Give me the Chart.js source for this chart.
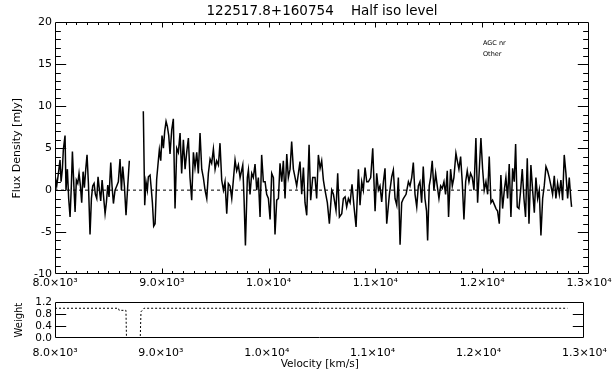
<!DOCTYPE html>
<html><head><meta charset="utf-8">
<script src="https://cdn.jsdelivr.net/npm/chart.js@4.4.1/dist/chart.umd.min.js"></script>
<style>
html,body{margin:0;padding:0;background:#fff;}
#wrap{position:relative;width:616px;height:372px;overflow:hidden;background:#fff;}
#c1{position:absolute;left:0;top:0;}
#c2{position:absolute;left:0;top:293px;}
</style></head><body>
<div id="wrap"><canvas id="c1" width="616" height="296"></canvas><canvas id="c2" width="616" height="79"></canvas></div>
<script>
// ---- data ----
const chartTitle = '122517.8+160754    Half iso level';
const noteLines = ['AGC nr', 'Other'];
const xTickValues = [8000, 9000, 10000, 11000, 12000, 13000];
const xTickLabels = ['8.0×10³', '9.0×10³', '1.0×10⁴', '1.1×10⁴', '1.2×10⁴', '1.3×10⁴'];
const fluxTicks = [-10, -5, 0, 5, 10, 15, 20];
const weightTicks = [0, 0.4, 0.8, 1.2];

// spectrum before the masked gap
const velLow = [8000,8016,8032,8047,8057,8069,8078,8094,8103,8116,
  8128,8141,8153,8163,8175,8188,8200,8213,8225,8238,
  8250,8263,8275,8288,8300,8313,8328,8341,8353,8366,
  8378,8391,8403,8416,8428,8441,8453,8469,8481,8494,
  8506,8522,8534,8547,8562,8578,8593,8609,8622,8634,
  8650,8665,8681,8696];
const fluxLow = [1.8,0.5,2.0,3.6,1.0,2.5,4.8,6.5,0,2.5,
  -1.0,-3.2,0.5,4.6,1.0,-2.6,1.2,0.8,2.0,0.5,
  -1.5,2.2,0.3,2.5,4.2,0.8,-5.3,-1.0,0.5,0.8,
  -0.5,-1.0,1.6,0,-1.3,1.2,-0.5,-2.8,-1.5,0.6,
  -0.8,3.3,0.5,-1.6,0,0.5,1.0,3.7,0,2.8,
  0.5,-3.0,0.5,3.5];

// spectrum after the masked gap
const velMain = [8827,8840,8852,8865,8874,8890,8899,8912,8924,8937,
  8952,8968,8977,8990,9002,9015,9027,9040,9052,9065,
  9077,9093,9108,9124,9140,9155,9171,9186,9202,9218,
  9233,9249,9264,9280,9296,9311,9327,9342,9358,9374,
  9389,9405,9421,9436,9452,9467,9483,9499,9514,9530,
  9545,9561,9577,9592,9608,9623,
  9639,9655,9670,9686,9701,9717,9733,9758,9770,9783,
  9801,9811,9826,9842,9857,9873,9889,9904,9920,9935,
  9951,9967,9982,9998,10014,10029,10045,10060,10076,10092,
  10107,10123,10138,10154,10170,10185,10201,10216,10232,10248,
  10263,10279,10294,10310,10326,10341,10357,10379,10394,10413,
  10435,10450,10466,10482,10497,10513,10528,10550,10569,10591,
  10607,10631,10647,10663,10685,10700,10716,10731,10747,10763,
  10781,10800,10819,10841,10856,10872,10887,10903,10919,10934,
  10956,10975,10997,11012,11028,11043,11059,11075,11090,11106,
  11131,11153,11168,11184,11200,11215,11231,11246,11262,11287,
  11309,11324,11340,11355,11371,11387,11402,
  11417,11433,11448,11464,11479,11489,11504,11517,11532,11548,
  11564,11579,11595,11611,11626,11642,11657,11673,11685,11704,
  11720,11735,11754,11767,11782,11798,11813,11829,11845,11860,
  11876,11891,11907,11923,11941,11957,11973,11988,12004,12019,
  12035,12051,12066,12082,12097,12113,12129,12144,12160,12175,
  12191,12207,12222,12238,12253,12269,12285,12300,12313,12328,
  12344,12360,12375,12391,12406,12422,12438,12456,12472,12488,
  12503,12519,12534,12550,12566,12581,12597,12612,12628,12644,
  12659,12675,12690,12706,12722,12737,12753,12768,12784,12800,
  12815,12831,12837];
const fluxMain = [9.4,-1.8,1.0,0,1.6,1.8,0.5,-1.5,-4.3,-4.0,
  1.3,3.6,4.8,3.5,6.5,5.0,7.0,8.2,7.6,6.5,
  4.3,7.2,8.5,-2.2,5.0,4.5,6.8,2.0,6.0,2.5,
  4.5,6.2,1.5,-1.2,4.5,2.7,4.5,2.0,6.8,2.5,
  1.5,0,-1.0,2.0,3.7,3.2,4.9,2.5,3.5,3.0,
  5.6,1.2,0,1.0,-2.8,0.8,
  0.5,-1.0,1.2,3.6,2.3,3.0,1.5,3.0,-1.0,-6.6,
  1.5,2.4,-0.5,2.0,1.5,3.1,0,1.5,-3.2,4.2,
  1.0,1.0,-0.5,-1.0,-3.5,2.0,1.5,-5.3,-1.2,-1.0,
  3.2,1.0,3.5,-1.0,4.3,1.5,2.5,5.8,2.5,1.5,
  0.5,2.0,3.4,-0.5,2.7,-1.5,-3.0,5.4,-1.2,1.5,
  1.5,-1.0,4.2,2.6,3.5,1.2,0,-1.5,-4.0,0,
  -0.5,-2.4,2.0,-3.2,-2.8,-1.0,-0.8,-2.0,-1.0,-1.5,
  0.7,-2.0,-4.4,2.5,-1.8,1.0,0,2.7,1.0,1.0,
  1.5,5.0,-2.5,2.0,0,0.5,-1.4,1.0,2.6,-4.0,
  -0.5,1.6,2.4,-1.0,-1.8,1.5,-6.5,-1.5,-1.0,-0.5,
  1.0,0.5,1.5,3.3,-0.5,-2.0,0.5,
  1.0,-1.5,2.8,-1.0,-2.5,-6.0,0.5,1.5,3.5,0,
  2.0,0.5,-1.0,0.5,0.2,1.0,-0.5,2.3,-3.2,2.5,
  0.5,1.5,4.4,3.5,2.5,4.0,1.0,-3.5,1.0,2.3,
  1.0,2.0,1.5,0,6.2,-1.5,2.5,6.2,2.5,0,
  1.0,-0.5,4.0,-1.5,-1.2,-1.7,-2.2,-2.5,-4.0,1.8,
  -2.2,0,1.5,-1.0,3.1,-3.2,2.6,1.0,5.5,-2.0,
  -2.2,0,2.5,-1.0,-3.2,3.8,-4.0,3.0,0,-2.7,
  1.5,-1.0,0,-5.4,-1.0,0.5,2.8,2.3,1.5,0.5,
  -0.5,1.7,-1.0,0.8,-0.5,1.2,-1.2,4.2,2.0,-1.0,
  1.5,-1.2,-2.0];
const gapVel = 8760;

// zero-level reference line
const zeroVel = [8000, 12840];
const zeroFlux = [0, 0];

// weights
const weightVel = [8000, 8600, 8605, 8670, 8675, 8805, 8812, 8840, 12840];
const weightVal = [1.0, 1.0, 0.93, 0.93, 0.0, 0.0, 0.88, 1.0, 1.0];

// ---- drawing ----
const FAM = "'DejaVu Sans', 'Liberation Sans', sans-serif";
Chart.defaults.font.family = FAM;
Chart.defaults.color = '#000';

const pts = (xs, ys) => xs.map((x, i) => ({x: x, y: ys[i]}));
const spectrum = pts(velLow, fluxLow).concat([{x: gapVel, y: null}], pts(velMain, fluxMain));

const idlBox = {
  id: 'idlBox',
  afterDatasetsDraw(chart, args, o) {
    const {ctx, chartArea: a} = chart;
    const xs = chart.scales.x, ys = chart.scales.y;
    const L = Math.round(a.left) + 0.5, R = Math.round(a.right) - 0.5;
    const T = Math.round(a.top) + 0.5, B = Math.round(a.bottom) - 0.5;
    ctx.save();
    ctx.strokeStyle = '#000'; ctx.lineWidth = 1;
    ctx.beginPath();
    ctx.rect(L, T, R - L, B - T);
    const isMajor = (v, m) => Math.abs(v / m - Math.round(v / m)) < 1e-6;
    if (o.xMinor) {
      const n = Math.round((xs.max - xs.min) / o.xMinor);
      for (let i = 1; i < n; i++) {
        const v = xs.min + i * o.xMinor;
        const p = Math.round(xs.getPixelForValue(v)) + 0.5;
        const len = isMajor(v, o.xMajor) ? o.xLen : o.xLen / 2;
        ctx.moveTo(p, B); ctx.lineTo(p, B - len);
        ctx.moveTo(p, T); ctx.lineTo(p, T + len);
      }
    }
    if (o.yMinor) {
      const n = Math.round((ys.max - ys.min) / o.yMinor);
      for (let i = 1; i < n; i++) {
        const v = ys.min + i * o.yMinor;
        const p = Math.round(ys.getPixelForValue(v)) + 0.5;
        const len = isMajor(v, o.yMajor) ? o.yLen : o.yLen / 2;
        ctx.moveTo(L, p); ctx.lineTo(L + len, p);
        ctx.moveTo(R, p); ctx.lineTo(R - len, p);
      }
    }
    ctx.stroke();
    if (o.notes) {
      ctx.fillStyle = '#000';
      ctx.font = o.notes.font;
      ctx.textBaseline = 'alphabetic';
      o.notes.lines.forEach((t, i) => ctx.fillText(t, o.notes.x, o.notes.y + i * o.notes.dy));
    }
    ctx.restore();
  }
};

const xAxis = (height, pad, showTitle) => ({
  type: 'linear', min: 8000, max: 13000,
  afterBuildTicks: s => { s.ticks = xTickValues.map(v => ({value: v})); },
  afterFit: s => { s.height = height; },
  ticks: {
    autoSkip: false, maxRotation: 0, padding: pad,
    font: {size: 11, family: FAM}, color: '#000',
    callback: v => xTickLabels[xTickValues.indexOf(v)]
  },
  grid: {display: false, drawTicks: false},
  border: {display: false},
  title: {display: showTitle, text: 'Velocity [km/s]', font: {size: 10.5, family: FAM}, color: '#000', padding: {top: 0, bottom: 1}}
});

new Chart(document.getElementById('c1'), {
  type: 'line',
  data: {datasets: [
    {data: pts(zeroVel, zeroFlux), borderColor: '#000', borderWidth: 1, borderDash: [3, 3], pointRadius: 0},
    {data: spectrum, borderColor: '#000', borderWidth: 1.5, pointRadius: 0, spanGaps: false, tension: 0}
  ]},
  options: {
    responsive: false, animation: false, devicePixelRatio: 1,
    layout: {padding: {top: 0, right: 27, left: 0, bottom: 0}},
    plugins: {
      legend: {display: false}, tooltip: {enabled: false},
      title: {display: true, text: chartTitle, fullSize: false, color: '#000',
              font: {size: 13.5, weight: 'normal', family: FAM}, padding: {top: 3, bottom: 3.2}},
      idlBox: {xMinor: 100, xMajor: 1000, xLen: 5, yMinor: 1, yMajor: 5, yLen: 10.7,
               notes: {lines: noteLines, x: 483, y: 45, dy: 10.5, font: '6.5px ' + FAM}}
    },
    scales: {
      x: xAxis(22, 3, false),
      y: {
        min: -10, max: 20,
        afterBuildTicks: s => { s.ticks = fluxTicks.map(v => ({value: v})); },
        afterFit: s => { s.width = 55; },
        ticks: {autoSkip: false, padding: 3, font: {size: 11, family: FAM}, color: '#000'},
        grid: {display: false, drawTicks: false},
        border: {display: false},
        title: {display: true, text: 'Flux Density [mJy]', font: {size: 11, family: FAM}, color: '#000', padding: {top: 11, bottom: 0}}
      }
    }
  },
  plugins: [idlBox]
});

new Chart(document.getElementById('c2'), {
  type: 'line',
  data: {datasets: [
    {data: pts(weightVel, weightVal), borderColor: '#000', borderWidth: 1, borderDash: [2, 2], pointRadius: 0, tension: 0}
  ]},
  options: {
    responsive: false, animation: false, devicePixelRatio: 1,
    layout: {padding: {top: 0, right: 27, left: 0, bottom: 0}},
    plugins: {
      legend: {display: false}, tooltip: {enabled: false},
      idlBox: {yMinor: 0.4, yMajor: 0.4, yLen: 10.7}
    },
    scales: {
      x: xAxis(34, 9, true),
      y: {
        min: 0, max: 1.2,
        afterBuildTicks: s => { s.ticks = weightTicks.map(v => ({value: v})); },
        afterFit: s => { s.width = 55; },
        ticks: {autoSkip: false, padding: 3, font: {size: 10.5, family: FAM}, color: '#000', callback: v => v.toFixed(1)},
        grid: {display: false, drawTicks: false},
        border: {display: false},
        title: {display: true, text: 'Weight', font: {size: 10, family: FAM}, color: '#000', padding: {top: 13, bottom: 0}}
      }
    }
  },
  plugins: [idlBox]
});
</script>
</body></html>
